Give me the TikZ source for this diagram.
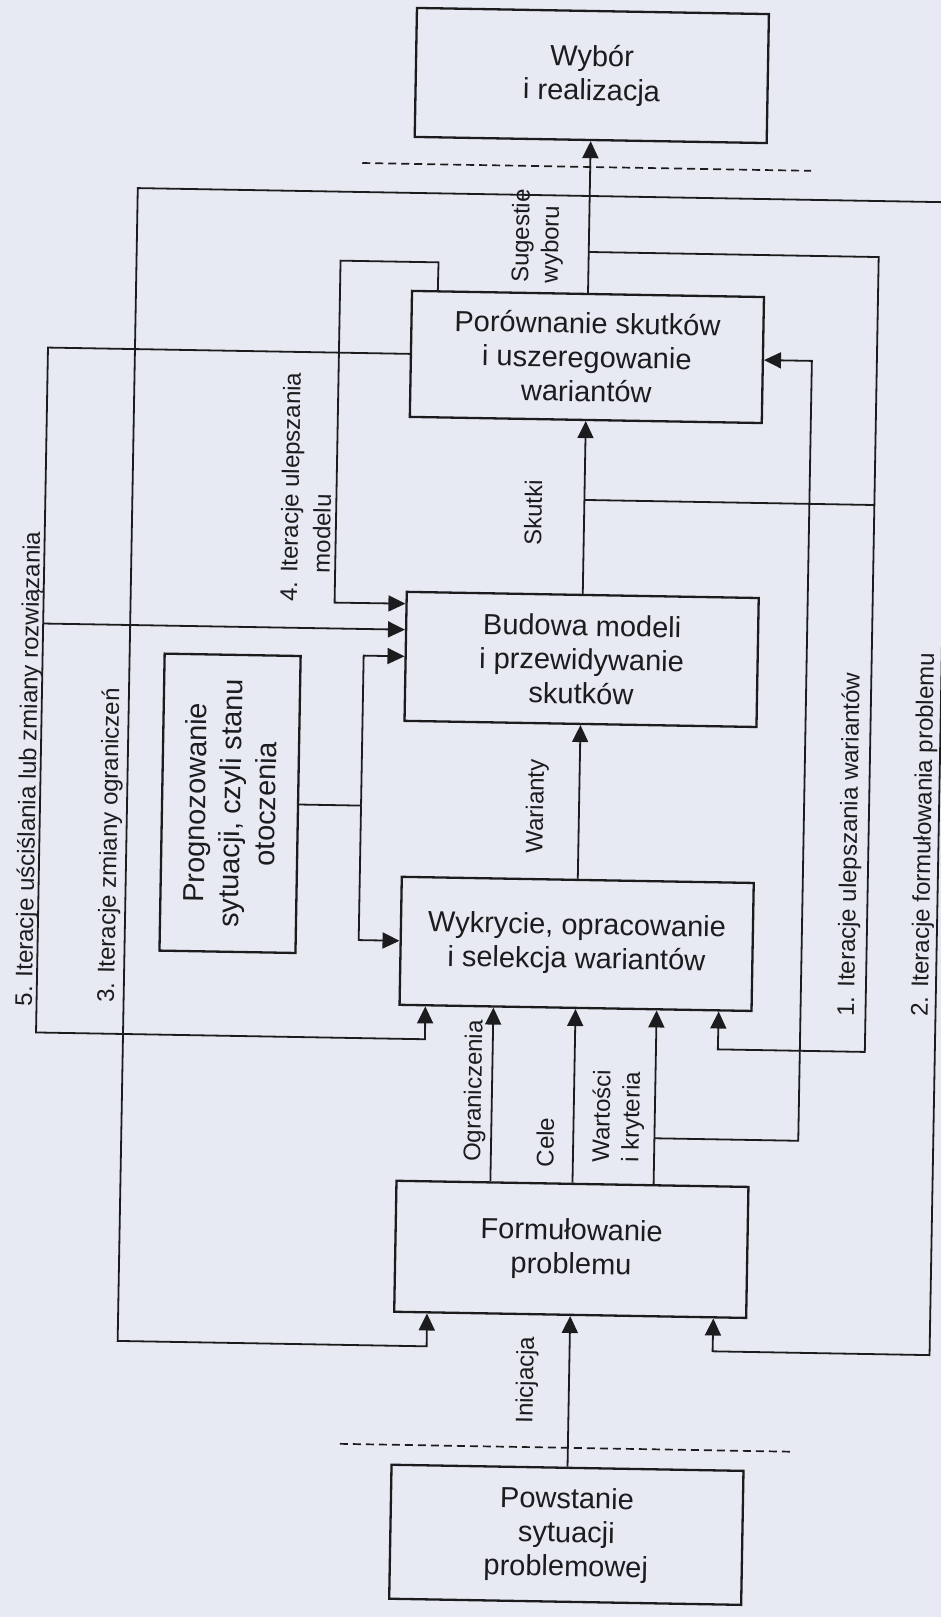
\documentclass[tikz,border=0pt]{standalone}
\usepackage{fontspec}
\setmainfont{Liberation Sans}
\usetikzlibrary{arrows.meta,calc}
\definecolor{paper}{RGB}{231,234,242}
\definecolor{ink}{RGB}{28,28,30}
\begin{document}
\begin{tikzpicture}[x=1pt,y=-1pt,
  box/.style={draw=ink,line width=2.3pt,minimum width=352pt,inner sep=0pt,align=center,
              font=\fontsize{29}{34}\selectfont,text=ink},
  lowered/.style={execute at begin node={\rule{0pt}{31pt}}},
  lab/.style={rotate=90,inner sep=0pt,font=\fontsize{24}{29.5}\selectfont,text=ink},
  wire/.style={draw=ink,line width=1.8pt},
  arr/.style={wire,-{Triangle[width=16pt,length=17pt]}},
  sep/.style={draw=ink,line width=1.7pt,dash pattern=on 8pt off 5pt}]
\fill[paper] (0,0) rectangle (941,1617);
\useasboundingbox (0,0) rectangle (941,1617);
\begin{scope}[rotate around={-1:(470.5,808.5)},transform shape]
  % process stages
  \node[box,lowered,minimum height=129pt] (W)  at (579,73.5)  {Wybór\\i realizacja};
  \node[box,lowered,minimum height=126pt] (P)  at (579,355)   {Porównanie skutków\\i uszeregowanie\\wariantów};
  \node[box,lowered,minimum height=129pt] (B)  at (579,657.5) {Budowa modeli\\i przewidywanie\\skutków};
  \node[box,lowered,minimum height=128pt] (WY) at (579,942)   {Wykrycie, opracowanie\\i selekcja wariantów};
  \node[box,lowered,minimum height=131pt] (F)  at (579,1247.5){Formułowanie\\problemu};
  \node[box,lowered,minimum height=134pt] (PS) at (579,1533)  {Powstanie\\sytuacji\\problemowej};
  \node[box,rotate=90,minimum width=297pt,minimum height=136pt,
        font=\fontsize{29}{35}\selectfont] (PR) at (230,807.5)
        {Prognozowanie\\sytuacji, czyli stanu\\otoczenia};

  % boundaries of the decision phase
  \coordinate (D1) at (351,165);  \coordinate (D2) at (800,165);
  \coordinate (D3) at (351,1446); \coordinate (D4) at (801,1446);
  \draw[sep] (D1) -- (D2);
  \draw[sep] (D3) -- (D4);

  % main chain
  \draw[arr] (PS.north) -- (F.south);
  \draw[arr] ($(F.north)!0.4635!(F.north west)$) coordinate (Fo)
          -- ($(WY.south)!0.4635!(WY.south west)$) coordinate (WYo);
  \draw[arr] (F.north) -- (WY.south);
  \draw[arr] ($(F.north)!0.458!(F.north east)$) coordinate (Fv)
          -- ($(WY.south)!0.458!(WY.south east)$) coordinate (WYv);
  \draw[arr] (WY.north) -- (B.south);
  \draw[arr] (B.north) -- (P.south);
  \draw[arr] (P.north) -- (W.south);

  % junctions and corners
  \coordinate (J1) at (579,194);  \coordinate (J2) at (579,250);
  \coordinate (J3) at (579,498);  \coordinate (J5) at (40,631);
  \coordinate (J6) at (361,807.5);\coordinate (J7) at (660,1135);
  \coordinate (T3) at (127,194);  \coordinate (L3) at (127,1347); \coordinate (C3) at (436,1347);
  \coordinate (T2) at (939,194);  \coordinate (L2) at (939,1347); \coordinate (C2) at (722,1347);
  \coordinate (T1) at (869,250);  \coordinate (L1) at (869,1045); \coordinate (C1) at (722,1045);
  \coordinate (T1b) at (869,498);
  \coordinate (T5) at (40,355);   \coordinate (L5) at (40,1040);  \coordinate (C5) at (429,1040);
  \coordinate (T4a) at (429,263); \coordinate (T4b) at (331,263); \coordinate (C4) at (331,605);
  \coordinate (C6a) at (361,657.5); \coordinate (C6b) at (361,942);
  \coordinate (L7) at (804,1135); \coordinate (C7) at (804,355);

  % 3. constraint iterations and 2. problem formulation iterations
  \draw[arr] (J1) -- (T3) -- (L3) -- (C3) -- ($(F.south west)!0.0958!(F.south east)$);
  \draw[arr] (J1) -- (T2) -- (L2) -- (C2) -- ($(F.south east)!0.0958!(F.south west)$);
  % 1. variant improvement iterations
  \draw[arr] (J2) -- (T1) -- (L1) -- (C1) -- ($(WY.south east)!0.0958!(WY.south west)$);
  \draw[wire] (J3) -- (T1b);
  % 5. refinement iterations
  \draw[arr] (P.west) -- (T5) -- (L5) -- (C5) -- ($(WY.south west)!0.076!(WY.south east)$);
  \draw[arr] (J5) -- ($(B.north west)!0.297!(B.south west)$);
  % 4. model improvement iterations
  \draw[arr] ($(P.north west)!0.076!(P.north east)$) -- (T4a) -- (T4b) -- (C4)
          -- ($(B.north west)!0.099!(B.south west)$);
  % forecast of the environment
  \draw[wire] (PR.south) -- (J6);
  \draw[arr] (J6) -- (C6a) -- (B.west);
  \draw[arr] (J6) -- (C6b) -- (WY.west);
  % values and criteria feed the comparison
  \draw[arr] (J7) -- (L7) -- (C7) -- (P.east);

  % connector labels
  \node[lab,anchor=west,align=left] (tSug) at (527.5,282) {Sugestie\\wyboru};
  \node[lab] (tSk) at (528,512)  {Skutki};
  \node[lab] (tWa) at (537,805)  {Warianty};
  \node[lab] (tIn) at (537,1379) {Inicjacja};
  \node[lab] (tOg) at (480,1091) {Ograniczenia};
  \node[lab] (tCe) at (551,1141) {Cele};
  \node[lab,anchor=west,align=left] (tWk) at (623.5,1160) {Wartości\\i kryteria};
  \node[lab,anchor=west] (t5) at (29,1014) {5. Iteracje uściślania lub zmiany rozwiązania};
  \node[lab,anchor=west] (t3) at (111,1009) {3. Iteracje zmiany ograniczeń};
  \node[lab,anchor=west] (t1) at (851,1010) {1. Iteracje ulepszania wariantów};
  \node[lab,anchor=west] (t2) at (925,1009) {2. Iteracje formułowania problemu};
  \node[lab,anchor=west] (t4a) at (287,605) {4. Iteracje ulepszania};
  \node[lab,anchor=west] (t4b) at (317,576) {modelu};
\end{scope}
\end{tikzpicture}
\end{document}
